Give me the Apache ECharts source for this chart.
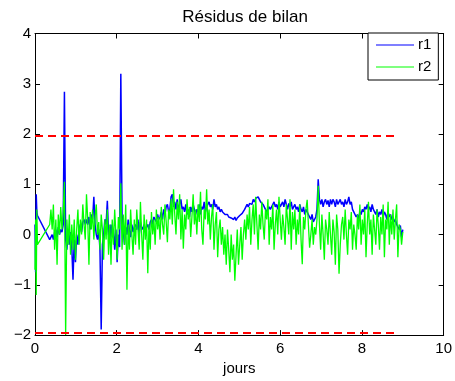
<!DOCTYPE html>
<html><head><meta charset="utf-8">
<script src="https://cdn.jsdelivr.net/npm/echarts@6/dist/echarts.min.js"></script>
<style>html,body{margin:0;padding:0;background:#fff}#c{width:455px;height:381px}</style>
</head><body><div id="c"></div>
<script>
// Sampling times (days): a short initial burst, then a gap, then regular samples
const daysStart = [0, 0.015, 0.03, 0.045, 0.06];
const daysMainStart = 0.36, daysMainStep = 0.03, daysMainCount = 289;

const r1Start = [0.2, -0.75, 0.8, 0.45, 0.38];
const r1Main = [
 -0.1,-0.05,0.0,-0.1,0.05,0.1,-0.05,0.15,0.0,0.1,
 0.05,0.2,2.84,-0.1,-0.3,0.1,-0.2,0.05,-0.25,-0.9,
 -0.1,-0.55,0.0,-0.2,0.1,0.2,0.05,0.25,0.3,0.2,
 0.3,0.2,0.35,0.1,0.4,0.3,0.75,0.2,0.0,-0.1,
 0.1,-0.3,-1.89,-0.2,0.0,0.3,0.2,0.67,0.0,-0.1,
 0.2,-0.05,0.1,-0.3,0.1,-0.55,0.0,-0.25,3.2,0.4,
 0.1,-0.2,0.15,0.0,0.3,0.1,-0.05,0.2,0.05,0.15,
 0.2,0.1,0.3,0.0,0.25,0.15,0.1,0.2,0.05,0.15,
 0.2,0.1,0.25,0.3,0.2,0.35,0.3,0.25,0.4,0.3,
 0.35,0.45,0.3,0.5,0.4,0.55,0.6,0.45,0.5,0.75,
 0.8,0.55,0.65,0.5,0.7,0.45,0.6,0.7,0.5,0.55,
 0.45,0.6,0.4,0.5,0.35,0.55,0.45,0.6,0.5,0.4,
 0.5,0.45,0.6,0.4,0.55,0.5,0.65,0.45,0.55,0.6,
 0.65,0.55,0.6,0.5,0.7,0.55,0.6,0.5,0.55,0.45,
 0.5,0.45,0.42,0.4,0.38,0.4,0.35,0.38,0.33,0.35,
 0.3,0.35,0.28,0.33,0.3,0.38,0.35,0.42,0.45,0.5,
 0.55,0.6,0.55,0.62,0.65,0.6,0.7,0.65,0.72,0.7,
 0.75,0.7,0.65,0.68,0.6,0.55,0.5,0.45,0.5,0.55,
 0.5,0.55,0.6,0.65,0.55,0.6,0.5,0.65,0.55,0.6,
 0.65,0.55,0.7,0.6,0.5,0.62,0.55,0.65,0.5,0.55,
 0.6,0.5,0.55,0.45,0.6,0.5,0.45,0.55,0.4,0.5,
 0.45,0.4,0.35,0.3,0.4,0.25,0.3,0.35,0.5,1.1,
 0.7,0.6,0.7,0.55,0.65,0.7,0.6,0.68,0.55,0.7,
 0.6,0.7,0.65,0.55,0.7,0.6,0.65,0.7,0.6,0.65,
 0.55,0.7,0.6,0.65,0.75,0.6,0.65,0.5,0.45,0.4,
 0.35,0.4,0.3,0.45,0.4,0.5,0.45,0.55,0.5,0.6,
 0.5,0.55,0.45,0.6,0.5,0.45,0.4,0.5,0.35,0.45,
 0.4,0.5,0.35,0.45,0.4,0.3,0.45,0.35,0.4,0.3,
 0.35,0.25,0.3,0.2,0.15,0.1,0.18,-0.05,0.1
];

const r2Start = [-0.7, 0.3, -1.2, 0.5, -0.2];
const r2Main = [
 0.2,0.5,0.1,0.6,-0.3,0.3,-0.6,0.4,0.0,0.55,
 0.1,0.45,1.05,-2.0,0.3,-0.2,0.4,-0.4,0.2,-0.3,
 0.3,-0.5,0.1,0.5,-0.2,0.3,0.0,0.6,0.2,-0.1,
 0.8,0.3,-0.6,0.45,0.1,0.5,-0.1,0.35,0.6,0.0,
 0.25,-0.3,0.4,0.1,-0.5,0.3,-0.1,0.5,-0.4,0.2,
 -0.6,0.3,-0.2,0.5,0.0,-0.5,0.35,0.1,1.02,-0.3,
 0.4,-0.2,0.6,-1.1,0.2,-0.3,0.5,0.0,-0.4,0.3,
 -0.2,0.5,0.1,-0.3,0.65,0.0,-0.5,0.4,-0.1,0.3,
 -0.77,0.2,-0.3,0.45,0.0,0.3,-0.2,0.5,0.1,0.35,
 -0.1,0.55,0.2,0.0,0.6,0.25,-0.15,0.5,0.3,0.7,
 0.2,0.9,0.4,0.0,0.65,0.3,0.8,-0.1,0.5,-0.28,
 0.4,0.1,0.7,0.3,0.55,-0.05,0.35,0.8,0.2,0.5,
 0.0,0.6,0.25,0.85,0.1,-0.2,0.5,0.3,0.9,0.2,
 0.5,-0.1,0.35,0.6,-0.3,0.2,0.45,-0.45,0.1,0.3,
 -0.2,0.15,-0.4,0.0,-0.6,0.1,-0.3,-0.75,0.0,-0.5,
 -0.2,-0.92,-0.4,0.1,-0.6,-0.2,0.15,-0.5,0.0,0.3,
 -0.1,0.4,0.1,0.55,-0.2,0.3,0.6,0.0,0.75,0.2,
 -0.3,0.4,0.1,0.65,0.2,-0.1,0.5,0.3,0.7,-0.2,
 0.35,0.1,0.6,-0.3,0.2,0.5,0.0,0.75,0.3,-0.1,
 0.4,0.15,-0.2,0.6,0.3,0.0,0.7,-0.3,0.45,0.1,
 0.5,-0.2,0.3,0.0,0.6,-0.1,-0.59,0.35,0.1,0.5,
 0.69,0.2,-0.26,0.0,0.3,-0.2,0.15,0.0,0.3,0.97,
 0.2,-0.3,0.4,0.0,-0.5,0.3,0.1,-0.2,0.45,0.0,
 -0.4,0.3,0.05,-0.6,0.4,0.1,-0.78,-0.2,0.2,0.35,
 -0.1,0.5,0.0,-0.4,0.3,0.1,0.45,-0.3,0.2,0.0,
 -0.3,0.4,0.1,0.6,-0.2,0.3,0.0,0.5,-0.45,0.2,
 0.65,0.0,0.3,-0.4,0.4,0.1,-0.2,0.5,0.2,-0.3,
 0.35,0.0,0.6,-0.45,0.3,0.1,0.65,-0.2,0.4,0.0,
 0.5,-0.1,0.3,0.6,-0.45,0.2,0.1,-0.2,0.05
];

const seuil = 1.96;           // ± threshold
const seuilDays = [0, 8.8];   // extent of threshold lines
const xTicks = [0, 10, 2];    // min, max, interval
const yTicks = [-2, 4, 1];

const days = daysStart.concat(Array.from({length: daysMainCount}, (_, i) => +(daysMainStart + daysMainStep * i).toFixed(3)));
const r1 = r1Start.concat(r1Main);
const r2 = r2Start.concat(r2Main);

const font = '"Liberation Sans", Arial, Helvetica, sans-serif';
const minusFmt = v => String(v).replace('-', '\u2212');

const chart = echarts.init(document.getElementById('c'), null, {renderer: 'canvas'});
const axisCommon = {
  axisLine: {show: true, onZero: false, lineStyle: {color: '#000', width: 1}},
  axisTick: {show: true, inside: true, length: 5, lineStyle: {color: '#000'}},
  splitLine: {show: false}
};
chart.setOption({
  animation: false,
  backgroundColor: '#fff',
  title: {text: 'Résidus de bilan', left: 240, textAlign: 'center', top: 4,
    textStyle: {fontFamily: font, fontSize: 17, fontWeight: 'normal', color: '#000'}},
  grid: {left: 35, right: 10, top: 33.5, bottom: 42.5, containLabel: false},
  legend: {
    left: 368, top: 33, orient: 'vertical',
    backgroundColor: '#fff', borderColor: '#000', borderWidth: 1, borderRadius: 0,
    padding: [4, 7, 5, 8], itemGap: 6, itemWidth: 38, itemHeight: 16,
    textStyle: {fontFamily: font, fontSize: 15, color: '#000', lineHeight: 16, padding: [0, 0, 0, -1]},
    data: [
      {name: 'r1', icon: 'path://M0,7.5 L38,7.5 L38,8.7 L0,8.7 Z', itemStyle: {color: '#0000ff'}},
      {name: 'r2', icon: 'path://M0,7.5 L38,7.5 L38,8.7 L0,8.7 Z', itemStyle: {color: '#00ff00'}}
    ]
  },
  xAxis: [
    Object.assign({type: 'value', position: 'bottom', min: xTicks[0], max: xTicks[1], interval: xTicks[2],
      name: 'jours', nameLocation: 'middle', nameGap: 24,
      nameTextStyle: {fontFamily: font, fontSize: 15, color: '#000'},
      axisLabel: {fontFamily: font, fontSize: 15, color: '#000', margin: 6, formatter: minusFmt}}, axisCommon),
    Object.assign({type: 'value', position: 'top', min: xTicks[0], max: xTicks[1], interval: xTicks[2],
      axisLabel: {show: false}}, axisCommon)
  ],
  yAxis: [
    Object.assign({type: 'value', position: 'left', min: yTicks[0], max: yTicks[1], interval: yTicks[2],
      axisLabel: {fontFamily: font, fontSize: 15, color: '#000', margin: 4, formatter: minusFmt}}, axisCommon),
    Object.assign({type: 'value', position: 'right', min: yTicks[0], max: yTicks[1], interval: yTicks[2],
      axisLabel: {show: false}}, axisCommon)
  ],
  series: [
    {name: 'r1', type: 'line', showSymbol: false, symbol: 'none', z: 2,
      lineStyle: {color: '#0000ff', width: 1.5}, itemStyle: {color: '#0000ff'},
      data: days.map((d, i) => [d, r1[i]])},
    {name: 'r2', type: 'line', showSymbol: false, symbol: 'none', z: 3,
      lineStyle: {color: '#00ff00', width: 1.3}, itemStyle: {color: '#00ff00'},
      data: days.map((d, i) => [d, r2[i]])},
    {name: 'seuil+', type: 'line', showSymbol: false, symbol: 'none', z: 4,
      lineStyle: {color: '#ff0000', width: 2, type: [8, 5]},
      data: seuilDays.map(d => [d, seuil])},
    {name: 'seuil-', type: 'line', showSymbol: false, symbol: 'none', z: 4,
      lineStyle: {color: '#ff0000', width: 2, type: [8, 5]},
      data: seuilDays.map(d => [d, -seuil])}
  ]
});
</script></body></html>
